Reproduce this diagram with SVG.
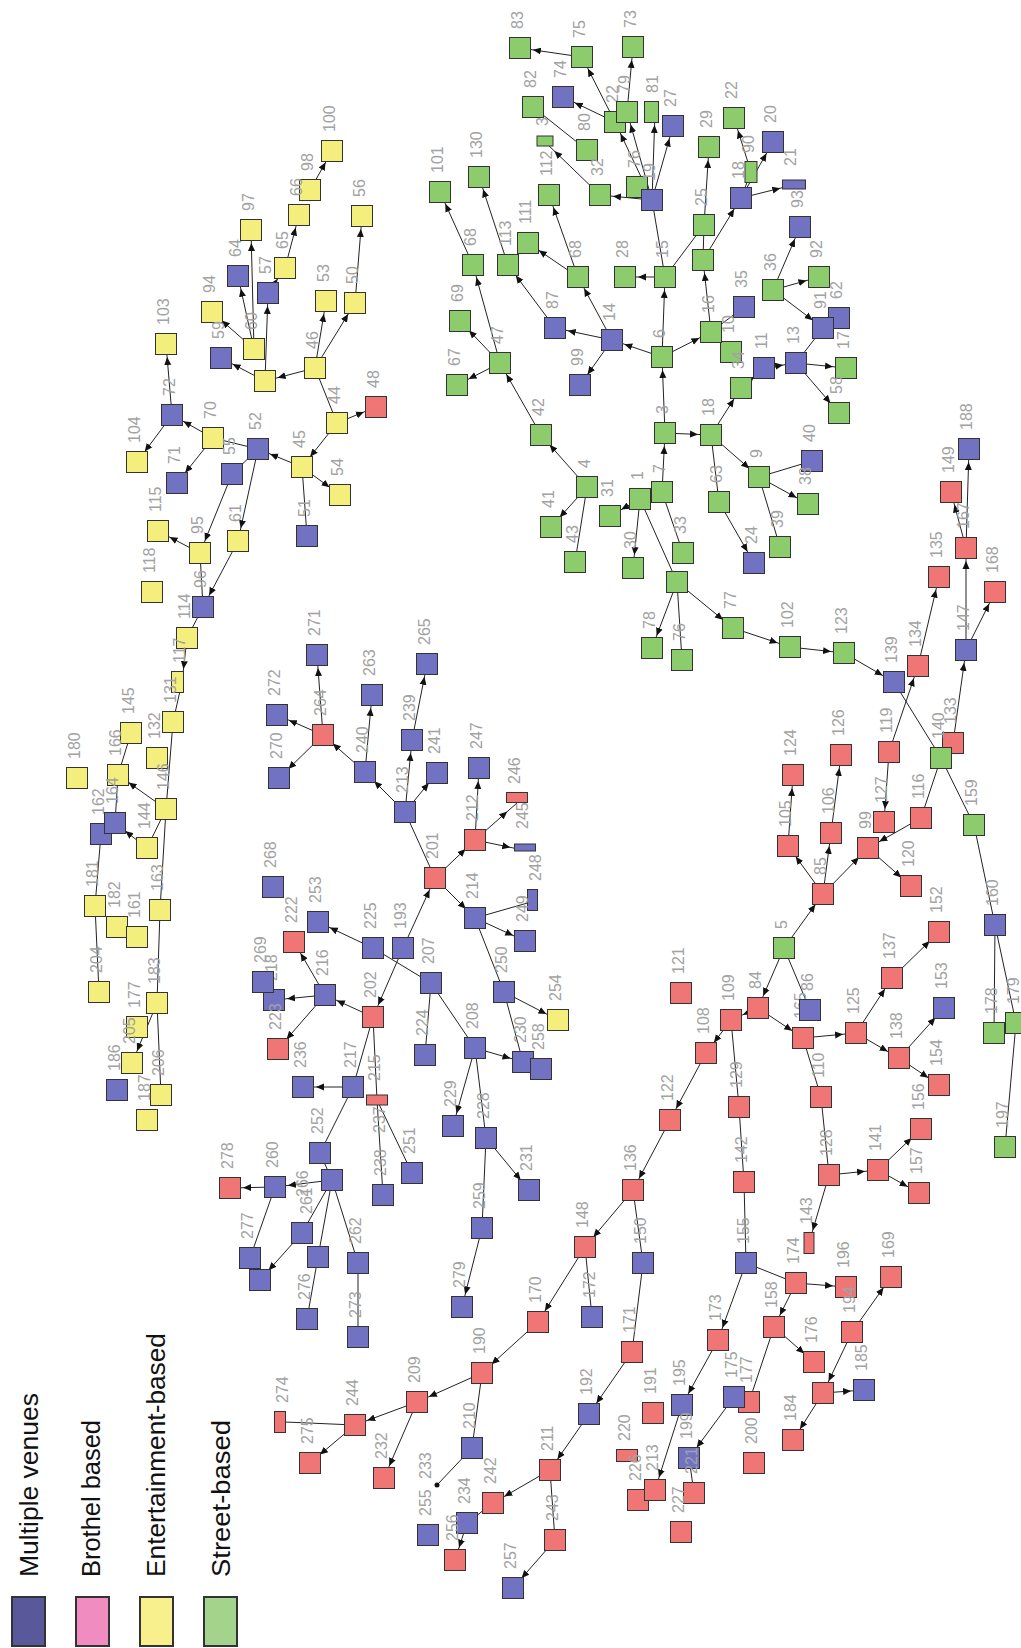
<svg xmlns="http://www.w3.org/2000/svg" width="1021" height="1648" viewBox="0 0 1021 1648">
<style>
.Y rect{fill:#f4ee7c;stroke:#333;stroke-width:1}
.B rect{fill:#7272c2;stroke:#333;stroke-width:1}
.R rect{fill:#f07676;stroke:#333;stroke-width:1}
.G rect{fill:#8ccc6c;stroke:#333;stroke-width:1}
.nodes text{font-family:"Liberation Sans",Arial,sans-serif;font-size:16px;fill:#a2a2a2}
.leg text{font-family:"Liberation Sans",Arial,sans-serif;font-size:26px;fill:#111}
.leg rect{stroke:#333;stroke-width:2}
#edges line{stroke:#222;stroke-width:1}
</style>
<defs>
<marker id="ah" markerUnits="userSpaceOnUse" markerWidth="24" markerHeight="10" refX="21" refY="5" orient="auto"><path d="M0,1.5 L8,5 L0,8.5 z" fill="#111"/></marker>
</defs>
<rect width="1021" height="1648" fill="#fff"/>
<g id="edges">
<g marker-end="url(#ah)">
<line x1="310" y1="190" x2="332" y2="151"/><line x1="285" y1="268" x2="299" y2="215"/><line x1="268" y1="293" x2="285" y2="268"/>
<line x1="265" y1="381" x2="268" y2="293"/><line x1="265" y1="381" x2="221" y2="358"/><line x1="254" y1="349" x2="238" y2="276"/>
<line x1="254" y1="349" x2="251" y2="230"/><line x1="254" y1="349" x2="212" y2="312"/><line x1="315" y1="368" x2="265" y2="381"/>
<line x1="315" y1="368" x2="355" y2="303"/><line x1="355" y1="303" x2="362" y2="216"/><line x1="315" y1="368" x2="326" y2="301"/>
<line x1="337" y1="423" x2="376" y2="407"/><line x1="337" y1="423" x2="302" y2="467"/><line x1="302" y1="467" x2="258" y2="449"/>
<line x1="302" y1="467" x2="340" y2="495"/><line x1="232" y1="474" x2="200" y2="553"/><line x1="258" y1="449" x2="238" y2="541"/>
<line x1="213" y1="438" x2="172" y2="415"/><line x1="172" y1="415" x2="166" y2="344"/><line x1="172" y1="415" x2="137" y2="462"/>
<line x1="213" y1="438" x2="177" y2="483"/><line x1="238" y1="541" x2="203" y2="607"/><line x1="200" y1="553" x2="158" y2="531"/>
<line x1="187" y1="638" x2="182" y2="682"/><line x1="166" y1="809" x2="118" y2="775"/><line x1="147" y1="848" x2="115" y2="823"/>
<line x1="157" y1="1003" x2="132" y2="1063"/>
<line x1="323" y1="735" x2="317" y2="655"/><line x1="323" y1="735" x2="277" y2="715"/><line x1="323" y1="735" x2="279" y2="778"/>
<line x1="365" y1="772" x2="323" y2="735"/><line x1="365" y1="772" x2="372" y2="695"/><line x1="405" y1="812" x2="365" y2="772"/>
<line x1="405" y1="812" x2="412" y2="740"/><line x1="412" y1="740" x2="427" y2="664"/><line x1="405" y1="812" x2="437" y2="773"/>
<line x1="435" y1="878" x2="475" y2="840"/><line x1="475" y1="840" x2="479" y2="768"/><line x1="475" y1="840" x2="517" y2="803"/>
<line x1="475" y1="840" x2="523" y2="850"/><line x1="435" y1="878" x2="475" y2="918"/><line x1="475" y1="918" x2="525" y2="941"/>
<line x1="504" y1="992" x2="558" y2="1020"/><line x1="403" y1="948" x2="435" y2="878"/><line x1="403" y1="948" x2="373" y2="1017"/>
<line x1="475" y1="1048" x2="523" y2="1062"/><line x1="475" y1="1048" x2="453" y2="1126"/><line x1="486" y1="1138" x2="529" y2="1190"/>
<line x1="482" y1="1228" x2="462" y2="1307"/><line x1="373" y1="1017" x2="325" y2="995"/><line x1="353" y1="1087" x2="303" y2="1087"/>
<line x1="373" y1="948" x2="318" y2="922"/><line x1="325" y1="995" x2="294" y2="942"/><line x1="325" y1="995" x2="274" y2="1000"/>
<line x1="325" y1="995" x2="278" y2="1049"/><line x1="275" y1="1187" x2="230" y2="1188"/><line x1="332" y1="1180" x2="275" y2="1187"/>
<line x1="302" y1="1233" x2="260" y2="1280"/>
<line x1="670" y1="1120" x2="633" y2="1190"/><line x1="633" y1="1190" x2="585" y2="1247"/><line x1="585" y1="1247" x2="538" y2="1322"/>
<line x1="632" y1="1352" x2="589" y2="1414"/><line x1="589" y1="1414" x2="550" y2="1470"/><line x1="550" y1="1470" x2="493" y2="1503"/>
<line x1="555" y1="1540" x2="513" y2="1588"/><line x1="467" y1="1523" x2="455" y2="1560"/><line x1="538" y1="1322" x2="482" y2="1373"/>
<line x1="482" y1="1373" x2="417" y2="1402"/><line x1="417" y1="1402" x2="355" y2="1425"/><line x1="417" y1="1402" x2="384" y2="1478"/>
<line x1="355" y1="1425" x2="310" y2="1463"/>
<line x1="784" y1="948" x2="823" y2="894"/><line x1="823" y1="894" x2="868" y2="848"/><line x1="868" y1="848" x2="911" y2="886"/>
<line x1="921" y1="818" x2="868" y2="848"/><line x1="823" y1="894" x2="831" y2="833"/><line x1="823" y1="894" x2="788" y2="846"/>
<line x1="788" y1="846" x2="793" y2="775"/><line x1="831" y1="833" x2="841" y2="755"/><line x1="889" y1="752" x2="884" y2="822"/>
<line x1="784" y1="948" x2="758" y2="1008"/><line x1="758" y1="1008" x2="731" y2="1020"/><line x1="758" y1="1008" x2="803" y2="1038"/>
<line x1="803" y1="1038" x2="856" y2="1033"/><line x1="856" y1="1033" x2="892" y2="978"/><line x1="892" y1="978" x2="939" y2="932"/>
<line x1="856" y1="1033" x2="899" y2="1058"/><line x1="899" y1="1058" x2="944" y2="1008"/><line x1="899" y1="1058" x2="939" y2="1085"/>
<line x1="731" y1="1020" x2="706" y2="1053"/><line x1="706" y1="1053" x2="670" y2="1120"/><line x1="829" y1="1175" x2="878" y2="1170"/>
<line x1="878" y1="1170" x2="921" y2="1129"/><line x1="878" y1="1170" x2="919" y2="1193"/><line x1="829" y1="1175" x2="809" y2="1243"/>
<line x1="746" y1="1263" x2="718" y2="1340"/><line x1="718" y1="1340" x2="682" y2="1405"/><line x1="796" y1="1283" x2="846" y2="1287"/>
<line x1="796" y1="1283" x2="774" y2="1327"/><line x1="774" y1="1327" x2="814" y2="1362"/><line x1="852" y1="1332" x2="891" y2="1277"/>
<line x1="852" y1="1332" x2="823" y2="1393"/><line x1="823" y1="1393" x2="864" y2="1390"/><line x1="823" y1="1393" x2="793" y2="1440"/>
<line x1="734" y1="1397" x2="689" y2="1458"/><line x1="682" y1="1405" x2="655" y2="1490"/>
<line x1="844" y1="653" x2="894" y2="682"/><line x1="889" y1="752" x2="918" y2="666"/><line x1="918" y1="666" x2="939" y2="577"/>
<line x1="966" y1="548" x2="951" y2="492"/><line x1="966" y1="548" x2="969" y2="449"/><line x1="966" y1="650" x2="966" y2="548"/>
<line x1="966" y1="650" x2="995" y2="592"/><line x1="953" y1="743" x2="966" y2="650"/>
<line x1="665" y1="433" x2="662" y2="357"/><line x1="662" y1="357" x2="612" y2="340"/><line x1="612" y1="340" x2="555" y2="328"/>
<line x1="612" y1="340" x2="580" y2="385"/><line x1="612" y1="340" x2="578" y2="277"/><line x1="578" y1="277" x2="528" y2="243"/>
<line x1="578" y1="277" x2="549" y2="195"/><line x1="662" y1="357" x2="665" y2="277"/><line x1="665" y1="277" x2="625" y2="277"/>
<line x1="652" y1="200" x2="600" y2="195"/><line x1="600" y1="195" x2="545" y2="142"/><line x1="652" y1="200" x2="655" y2="112"/>
<line x1="652" y1="200" x2="673" y2="126"/><line x1="652" y1="200" x2="627" y2="112"/><line x1="652" y1="200" x2="615" y2="122"/>
<line x1="615" y1="122" x2="563" y2="97"/><line x1="615" y1="122" x2="582" y2="57"/><line x1="582" y1="57" x2="520" y2="48"/>
<line x1="627" y1="112" x2="633" y2="47"/><line x1="662" y1="357" x2="711" y2="332"/><line x1="711" y1="332" x2="703" y2="260"/>
<line x1="703" y1="260" x2="741" y2="198"/><line x1="704" y1="225" x2="709" y2="147"/><line x1="741" y1="198" x2="793" y2="185"/>
<line x1="741" y1="198" x2="773" y2="142"/><line x1="751" y1="172" x2="734" y2="118"/><line x1="773" y1="290" x2="800" y2="227"/>
<line x1="773" y1="290" x2="819" y2="277"/><line x1="773" y1="290" x2="823" y2="328"/><line x1="796" y1="363" x2="846" y2="368"/>
<line x1="764" y1="368" x2="796" y2="363"/><line x1="741" y1="388" x2="764" y2="368"/><line x1="796" y1="363" x2="839" y2="413"/>
<line x1="711" y1="435" x2="741" y2="388"/><line x1="665" y1="433" x2="711" y2="435"/><line x1="711" y1="435" x2="759" y2="477"/>
<line x1="719" y1="502" x2="754" y2="563"/><line x1="759" y1="477" x2="808" y2="504"/><line x1="541" y1="435" x2="500" y2="363"/>
<line x1="500" y1="363" x2="473" y2="265"/><line x1="500" y1="363" x2="460" y2="321"/><line x1="500" y1="363" x2="457" y2="385"/>
<line x1="473" y1="265" x2="440" y2="192"/><line x1="508" y1="265" x2="479" y2="177"/><line x1="555" y1="328" x2="508" y2="265"/>
<line x1="587" y1="487" x2="541" y2="435"/><line x1="587" y1="487" x2="551" y2="527"/><line x1="640" y1="499" x2="610" y2="516"/>
<line x1="640" y1="499" x2="633" y2="568"/><line x1="662" y1="492" x2="665" y2="433"/><line x1="677" y1="582" x2="652" y2="648"/>
<line x1="677" y1="582" x2="733" y2="628"/><line x1="733" y1="628" x2="790" y2="647"/><line x1="790" y1="647" x2="844" y2="653"/>
</g>
<line x1="337" y1="423" x2="315" y2="368"/><line x1="302" y1="467" x2="307" y2="536"/><line x1="258" y1="449" x2="232" y2="474"/>
<line x1="258" y1="449" x2="213" y2="438"/><line x1="200" y1="553" x2="203" y2="607"/><line x1="203" y1="607" x2="187" y2="638"/>
<line x1="182" y1="682" x2="173" y2="722"/><line x1="173" y1="722" x2="166" y2="809"/><line x1="131" y1="733" x2="118" y2="775"/>
<line x1="118" y1="775" x2="115" y2="823"/><line x1="166" y1="809" x2="147" y2="848"/><line x1="166" y1="809" x2="160" y2="910"/>
<line x1="101" y1="834" x2="95" y2="906"/><line x1="95" y1="906" x2="99" y2="992"/><line x1="160" y1="910" x2="157" y2="1003"/>
<line x1="157" y1="1003" x2="161" y2="1095"/>
<line x1="435" y1="878" x2="405" y2="812"/><line x1="475" y1="918" x2="538" y2="900"/><line x1="475" y1="918" x2="504" y2="992"/>
<line x1="504" y1="992" x2="523" y2="1062"/><line x1="373" y1="948" x2="431" y2="983"/><line x1="431" y1="983" x2="425" y2="1055"/>
<line x1="431" y1="983" x2="475" y2="1048"/><line x1="475" y1="1048" x2="486" y2="1138"/><line x1="486" y1="1138" x2="482" y2="1228"/>
<line x1="373" y1="1017" x2="377" y2="1100"/><line x1="373" y1="1017" x2="353" y2="1087"/><line x1="353" y1="1087" x2="320" y2="1153"/>
<line x1="320" y1="1153" x2="332" y2="1180"/><line x1="377" y1="1100" x2="383" y2="1195"/><line x1="377" y1="1100" x2="412" y2="1173"/>
<line x1="332" y1="1180" x2="302" y2="1233"/><line x1="332" y1="1180" x2="318" y2="1257"/><line x1="332" y1="1180" x2="358" y2="1263"/>
<line x1="275" y1="1187" x2="250" y2="1258"/><line x1="318" y1="1257" x2="307" y2="1319"/><line x1="358" y1="1263" x2="358" y2="1337"/>
<line x1="633" y1="1190" x2="643" y2="1263"/><line x1="585" y1="1247" x2="592" y2="1317"/><line x1="643" y1="1263" x2="632" y2="1352"/>
<line x1="550" y1="1470" x2="555" y2="1540"/><line x1="493" y1="1503" x2="467" y2="1523"/><line x1="482" y1="1373" x2="472" y2="1448"/>
<line x1="472" y1="1448" x2="437" y2="1485"/><line x1="355" y1="1425" x2="285" y2="1422"/>
<line x1="784" y1="948" x2="810" y2="1010"/><line x1="731" y1="1020" x2="739" y2="1107"/><line x1="739" y1="1107" x2="744" y2="1182"/>
<line x1="744" y1="1182" x2="746" y2="1263"/><line x1="803" y1="1038" x2="821" y2="1097"/><line x1="821" y1="1097" x2="829" y2="1175"/>
<line x1="746" y1="1263" x2="796" y2="1283"/><line x1="774" y1="1327" x2="749" y2="1402"/><line x1="689" y1="1458" x2="694" y2="1493"/>
<line x1="894" y1="682" x2="941" y2="758"/><line x1="941" y1="758" x2="921" y2="818"/><line x1="941" y1="758" x2="974" y2="825"/>
<line x1="974" y1="825" x2="995" y2="925"/><line x1="995" y1="925" x2="994" y2="1033"/><line x1="995" y1="925" x2="1016" y2="1023"/>
<line x1="1016" y1="1023" x2="1005" y2="1147"/>
<line x1="665" y1="277" x2="652" y2="200"/><line x1="587" y1="150" x2="533" y2="107"/><line x1="703" y1="260" x2="704" y2="225"/>
<line x1="665" y1="277" x2="704" y2="225"/><line x1="741" y1="198" x2="751" y2="172"/><line x1="711" y1="332" x2="744" y2="307"/>
<line x1="796" y1="363" x2="823" y2="328"/><line x1="711" y1="435" x2="719" y2="502"/><line x1="759" y1="477" x2="812" y2="461"/>
<line x1="759" y1="477" x2="780" y2="547"/><line x1="587" y1="487" x2="575" y2="562"/><line x1="640" y1="499" x2="677" y2="582"/>
<line x1="662" y1="492" x2="683" y2="553"/><line x1="677" y1="582" x2="682" y2="660"/>
<circle cx="437" cy="1485" r="2.5" fill="#111"/>
</g>
<g class="nodes">
<g id="n100" class="Y" transform="translate(332,151)"><rect x="-10.5" y="-10.5" width="21" height="21"/><text x="19" y="3" transform="rotate(-90)">100</text></g>
<g id="n98" class="Y" transform="translate(310,190)"><rect x="-10.5" y="-10.5" width="21" height="21"/><text x="19" y="3" transform="rotate(-90)">98</text></g>
<g id="n66" class="Y" transform="translate(299,215)"><rect x="-10.5" y="-10.5" width="21" height="21"/><text x="19" y="3" transform="rotate(-90)">66</text></g>
<g id="n97" class="Y" transform="translate(251,230)"><rect x="-10.5" y="-10.5" width="21" height="21"/><text x="19" y="3" transform="rotate(-90)">97</text></g>
<g id="n65" class="Y" transform="translate(285,268)"><rect x="-10.5" y="-10.5" width="21" height="21"/><text x="19" y="3" transform="rotate(-90)">65</text></g>
<g id="n57" class="B" transform="translate(268,293)"><rect x="-10.5" y="-10.5" width="21" height="21"/><text x="19" y="3" transform="rotate(-90)">57</text></g>
<g id="n64" class="B" transform="translate(238,276)"><rect x="-10.5" y="-10.5" width="21" height="21"/><text x="19" y="3" transform="rotate(-90)">64</text></g>
<g id="n94" class="Y" transform="translate(212,312)"><rect x="-10.5" y="-10.5" width="21" height="21"/><text x="19" y="3" transform="rotate(-90)">94</text></g>
<g id="n62" class="Y" transform="translate(265,381)"><rect x="-10.5" y="-10.5" width="21" height="21"/></g>
<g id="n60" class="Y" transform="translate(254,349)"><rect x="-10.5" y="-10.5" width="21" height="21"/><text x="19" y="3" transform="rotate(-90)">60</text></g>
<g id="n59" class="B" transform="translate(221,358)"><rect x="-10.5" y="-10.5" width="21" height="21"/><text x="19" y="3" transform="rotate(-90)">59</text></g>
<g id="n53" class="Y" transform="translate(326,301)"><rect x="-10.5" y="-10.5" width="21" height="21"/><text x="19" y="3" transform="rotate(-90)">53</text></g>
<g id="n56" class="Y" transform="translate(362,216)"><rect x="-10.5" y="-10.5" width="21" height="21"/><text x="19" y="3" transform="rotate(-90)">56</text></g>
<g id="n50" class="Y" transform="translate(355,303)"><rect x="-10.5" y="-10.5" width="21" height="21"/><text x="19" y="3" transform="rotate(-90)">50</text></g>
<g id="n46" class="Y" transform="translate(315,368)"><rect x="-10.5" y="-10.5" width="21" height="21"/><text x="19" y="3" transform="rotate(-90)">46</text></g>
<g id="n48" class="R" transform="translate(376,407)"><rect x="-10.5" y="-10.5" width="21" height="21"/><text x="19" y="3" transform="rotate(-90)">48</text></g>
<g id="n44" class="Y" transform="translate(337,423)"><rect x="-10.5" y="-10.5" width="21" height="21"/><text x="19" y="3" transform="rotate(-90)">44</text></g>
<g id="n103" class="Y" transform="translate(166,344)"><rect x="-10.5" y="-10.5" width="21" height="21"/><text x="19" y="3" transform="rotate(-90)">103</text></g>
<g id="n72" class="B" transform="translate(172,415)"><rect x="-10.5" y="-10.5" width="21" height="21"/><text x="19" y="3" transform="rotate(-90)">72</text></g>
<g id="n70" class="Y" transform="translate(213,438)"><rect x="-10.5" y="-10.5" width="21" height="21"/><text x="19" y="3" transform="rotate(-90)">70</text></g>
<g id="n104" class="Y" transform="translate(137,462)"><rect x="-10.5" y="-10.5" width="21" height="21"/><text x="19" y="3" transform="rotate(-90)">104</text></g>
<g id="n71" class="B" transform="translate(177,483)"><rect x="-10.5" y="-10.5" width="21" height="21"/><text x="19" y="3" transform="rotate(-90)">71</text></g>
<g id="n55" class="B" transform="translate(232,474)"><rect x="-10.5" y="-10.5" width="21" height="21"/><text x="19" y="3" transform="rotate(-90)">55</text></g>
<g id="n52" class="B" transform="translate(258,449)"><rect x="-10.5" y="-10.5" width="21" height="21"/><text x="19" y="3" transform="rotate(-90)">52</text></g>
<g id="n45" class="Y" transform="translate(302,467)"><rect x="-10.5" y="-10.5" width="21" height="21"/><text x="19" y="3" transform="rotate(-90)">45</text></g>
<g id="n54" class="Y" transform="translate(340,495)"><rect x="-10.5" y="-10.5" width="21" height="21"/><text x="19" y="3" transform="rotate(-90)">54</text></g>
<g id="n51" class="B" transform="translate(307,536)"><rect x="-10.5" y="-10.5" width="21" height="21"/><text x="19" y="3" transform="rotate(-90)">51</text></g>
<g id="n115" class="Y" transform="translate(158,531)"><rect x="-10.5" y="-10.5" width="21" height="21"/><text x="19" y="3" transform="rotate(-90)">115</text></g>
<g id="n95" class="Y" transform="translate(200,553)"><rect x="-10.5" y="-10.5" width="21" height="21"/><text x="19" y="3" transform="rotate(-90)">95</text></g>
<g id="n61" class="Y" transform="translate(238,541)"><rect x="-10.5" y="-10.5" width="21" height="21"/><text x="19" y="3" transform="rotate(-90)">61</text></g>
<g id="n118" class="Y" transform="translate(152,592)"><rect x="-10.5" y="-10.5" width="21" height="21"/><text x="19" y="3" transform="rotate(-90)">118</text></g>
<g id="n96" class="B" transform="translate(203,607)"><rect x="-10.5" y="-10.5" width="21" height="21"/><text x="19" y="3" transform="rotate(-90)">96</text></g>
<g id="n114" class="Y" transform="translate(187,638)"><rect x="-10.5" y="-10.5" width="21" height="21"/><text x="19" y="3" transform="rotate(-90)">114</text></g>
<g id="n117" class="Y" transform="translate(182,682)"><rect x="-10.5" y="-10.5" width="12" height="21"/><text x="19" y="3" transform="rotate(-90)">117</text></g>
<g id="n131" class="Y" transform="translate(173,722)"><rect x="-10.5" y="-10.5" width="21" height="21"/><text x="19" y="3" transform="rotate(-90)">131</text></g>
<g id="n145" class="Y" transform="translate(131,733)"><rect x="-10.5" y="-10.5" width="21" height="21"/><text x="19" y="3" transform="rotate(-90)">145</text></g>
<g id="n132" class="Y" transform="translate(157,758)"><rect x="-10.5" y="-10.5" width="21" height="21"/><text x="19" y="3" transform="rotate(-90)">132</text></g>
<g id="n166" class="Y" transform="translate(118,775)"><rect x="-10.5" y="-10.5" width="21" height="21"/><text x="19" y="3" transform="rotate(-90)">166</text></g>
<g id="n180" class="Y" transform="translate(77,778)"><rect x="-10.5" y="-10.5" width="21" height="21"/><text x="19" y="3" transform="rotate(-90)">180</text></g>
<g id="n146" class="Y" transform="translate(166,809)"><rect x="-10.5" y="-10.5" width="21" height="21"/><text x="19" y="3" transform="rotate(-90)">146</text></g>
<g id="n162" class="B" transform="translate(101,834)"><rect x="-10.5" y="-10.5" width="21" height="21"/><text x="19" y="3" transform="rotate(-90)">162</text></g>
<g id="n164" class="B" transform="translate(115,823)"><rect x="-10.5" y="-10.5" width="21" height="21"/><text x="19" y="3" transform="rotate(-90)">164</text></g>
<g id="n144" class="Y" transform="translate(147,848)"><rect x="-10.5" y="-10.5" width="21" height="21"/><text x="19" y="3" transform="rotate(-90)">144</text></g>
<g id="n163" class="Y" transform="translate(160,910)"><rect x="-10.5" y="-10.5" width="21" height="21"/><text x="19" y="3" transform="rotate(-90)">163</text></g>
<g id="n181" class="Y" transform="translate(95,906)"><rect x="-10.5" y="-10.5" width="21" height="21"/><text x="19" y="3" transform="rotate(-90)">181</text></g>
<g id="n182" class="Y" transform="translate(117,927)"><rect x="-10.5" y="-10.5" width="21" height="21"/><text x="19" y="3" transform="rotate(-90)">182</text></g>
<g id="n161" class="Y" transform="translate(137,937)"><rect x="-10.5" y="-10.5" width="21" height="21"/><text x="19" y="3" transform="rotate(-90)">161</text></g>
<g id="n204" class="Y" transform="translate(99,992)"><rect x="-10.5" y="-10.5" width="21" height="21"/><text x="19" y="3" transform="rotate(-90)">204</text></g>
<g id="n183" class="Y" transform="translate(157,1003)"><rect x="-10.5" y="-10.5" width="21" height="21"/><text x="19" y="3" transform="rotate(-90)">183</text></g>
<g id="n177" class="Y" transform="translate(137,1027)"><rect x="-10.5" y="-10.5" width="21" height="21"/><text x="19" y="3" transform="rotate(-90)">177</text></g>
<g id="n205" class="Y" transform="translate(132,1063)"><rect x="-10.5" y="-10.5" width="21" height="21"/><text x="19" y="3" transform="rotate(-90)">205</text></g>
<g id="n186" class="B" transform="translate(117,1090)"><rect x="-10.5" y="-10.5" width="21" height="21"/><text x="19" y="3" transform="rotate(-90)">186</text></g>
<g id="n206" class="Y" transform="translate(161,1095)"><rect x="-10.5" y="-10.5" width="21" height="21"/><text x="19" y="3" transform="rotate(-90)">206</text></g>
<g id="n187" class="Y" transform="translate(147,1120)"><rect x="-10.5" y="-10.5" width="21" height="21"/><text x="19" y="3" transform="rotate(-90)">187</text></g>

<g id="n264" class="R" transform="translate(323,735)"><rect x="-10.5" y="-10.5" width="21" height="21"/><text x="19" y="3" transform="rotate(-90)">264</text></g>
<g id="n271" class="B" transform="translate(317,655)"><rect x="-10.5" y="-10.5" width="21" height="21"/><text x="19" y="3" transform="rotate(-90)">271</text></g>
<g id="n272" class="B" transform="translate(277,715)"><rect x="-10.5" y="-10.5" width="21" height="21"/><text x="19" y="3" transform="rotate(-90)">272</text></g>
<g id="n270" class="B" transform="translate(279,778)"><rect x="-10.5" y="-10.5" width="21" height="21"/><text x="19" y="3" transform="rotate(-90)">270</text></g>
<g id="n263" class="B" transform="translate(372,695)"><rect x="-10.5" y="-10.5" width="21" height="21"/><text x="19" y="3" transform="rotate(-90)">263</text></g>
<g id="n265" class="B" transform="translate(427,664)"><rect x="-10.5" y="-10.5" width="21" height="21"/><text x="19" y="3" transform="rotate(-90)">265</text></g>
<g id="n239" class="B" transform="translate(412,740)"><rect x="-10.5" y="-10.5" width="21" height="21"/><text x="19" y="3" transform="rotate(-90)">239</text></g>
<g id="n240" class="B" transform="translate(365,772)"><rect x="-10.5" y="-10.5" width="21" height="21"/><text x="19" y="3" transform="rotate(-90)">240</text></g>
<g id="n241" class="B" transform="translate(437,773)"><rect x="-10.5" y="-10.5" width="21" height="21"/><text x="19" y="3" transform="rotate(-90)">241</text></g>
<g id="n213" class="B" transform="translate(405,812)"><rect x="-10.5" y="-10.5" width="21" height="21"/><text x="19" y="3" transform="rotate(-90)">213</text></g>
<g id="n247" class="B" transform="translate(479,768)"><rect x="-10.5" y="-10.5" width="21" height="21"/><text x="19" y="3" transform="rotate(-90)">247</text></g>
<g id="n246" class="R" transform="translate(517,803)"><rect x="-10.5" y="-10.5" width="21" height="10"/><text x="19" y="3" transform="rotate(-90)">246</text></g>
<g id="n212" class="R" transform="translate(475,840)"><rect x="-10.5" y="-10.5" width="21" height="21"/><text x="19" y="3" transform="rotate(-90)">212</text></g>
<g id="n245" class="B" transform="translate(525,848)"><rect x="-10.5" y="-4" width="21" height="7"/><text x="19" y="3" transform="rotate(-90)">245</text></g>
<g id="n248" class="B" transform="translate(538,900)"><rect x="-10.5" y="-10.5" width="10" height="21"/><text x="19" y="3" transform="rotate(-90)">248</text></g>
<g id="n201" class="R" transform="translate(435,878)"><rect x="-10.5" y="-10.5" width="21" height="21"/><text x="19" y="3" transform="rotate(-90)">201</text></g>
<g id="n214" class="B" transform="translate(475,918)"><rect x="-10.5" y="-10.5" width="21" height="21"/><text x="19" y="3" transform="rotate(-90)">214</text></g>
<g id="n249" class="B" transform="translate(525,941)"><rect x="-10.5" y="-10.5" width="21" height="21"/><text x="19" y="3" transform="rotate(-90)">249</text></g>
<g id="n225" class="B" transform="translate(373,948)"><rect x="-10.5" y="-10.5" width="21" height="21"/><text x="19" y="3" transform="rotate(-90)">225</text></g>
<g id="n193" class="B" transform="translate(403,948)"><rect x="-10.5" y="-10.5" width="21" height="21"/><text x="19" y="3" transform="rotate(-90)">193</text></g>
<g id="n207" class="B" transform="translate(431,983)"><rect x="-10.5" y="-10.5" width="21" height="21"/><text x="19" y="3" transform="rotate(-90)">207</text></g>
<g id="n250" class="B" transform="translate(504,992)"><rect x="-10.5" y="-10.5" width="21" height="21"/><text x="19" y="3" transform="rotate(-90)">250</text></g>
<g id="n254" class="Y" transform="translate(558,1020)"><rect x="-10.5" y="-10.5" width="21" height="21"/><text x="19" y="3" transform="rotate(-90)">254</text></g>
<g id="n202" class="R" transform="translate(373,1017)"><rect x="-10.5" y="-10.5" width="21" height="21"/><text x="19" y="3" transform="rotate(-90)">202</text></g>
<g id="n224" class="B" transform="translate(425,1055)"><rect x="-10.5" y="-10.5" width="21" height="21"/><text x="19" y="3" transform="rotate(-90)">224</text></g>
<g id="n208" class="B" transform="translate(475,1048)"><rect x="-10.5" y="-10.5" width="21" height="21"/><text x="19" y="3" transform="rotate(-90)">208</text></g>
<g id="n230" class="B" transform="translate(523,1062)"><rect x="-10.5" y="-10.5" width="21" height="21"/><text x="19" y="3" transform="rotate(-90)">230</text></g>
<g id="n258" class="B" transform="translate(541,1069)"><rect x="-10.5" y="-10.5" width="21" height="21"/><text x="19" y="3" transform="rotate(-90)">258</text></g>
<g id="n217" class="B" transform="translate(353,1087)"><rect x="-10.5" y="-10.5" width="21" height="21"/><text x="19" y="3" transform="rotate(-90)">217</text></g>
<g id="n215" class="R" transform="translate(377,1100)"><rect x="-10.5" y="-5" width="21" height="10"/><text x="19" y="3" transform="rotate(-90)">215</text></g>
<g id="n229" class="B" transform="translate(453,1126)"><rect x="-10.5" y="-10.5" width="21" height="21"/><text x="19" y="3" transform="rotate(-90)">229</text></g>
<g id="n228" class="B" transform="translate(486,1138)"><rect x="-10.5" y="-10.5" width="21" height="21"/><text x="19" y="3" transform="rotate(-90)">228</text></g>
<g id="n231" class="B" transform="translate(529,1190)"><rect x="-10.5" y="-10.5" width="21" height="21"/><text x="19" y="3" transform="rotate(-90)">231</text></g>
<g id="n251" class="B" transform="translate(412,1173)"><rect x="-10.5" y="-10.5" width="21" height="21"/><text x="19" y="3" transform="rotate(-90)">251</text></g>
<g id="n238" class="B" transform="translate(383,1195)"><rect x="-10.5" y="-10.5" width="21" height="21"/><text x="19" y="3" transform="rotate(-90)">238</text><text x="62" y="2" transform="rotate(-90)">237</text></g>
<g id="n259" class="B" transform="translate(482,1228)"><rect x="-10.5" y="-10.5" width="21" height="21"/><text x="19" y="3" transform="rotate(-90)">259</text></g>
<g id="n279" class="B" transform="translate(462,1307)"><rect x="-10.5" y="-10.5" width="21" height="21"/><text x="19" y="3" transform="rotate(-90)">279</text></g>
<g id="n268" class="B" transform="translate(273,887)"><rect x="-10.5" y="-10.5" width="21" height="21"/><text x="19" y="3" transform="rotate(-90)">268</text></g>
<g id="n253" class="B" transform="translate(318,922)"><rect x="-10.5" y="-10.5" width="21" height="21"/><text x="19" y="3" transform="rotate(-90)">253</text></g>
<g id="n222" class="R" transform="translate(294,942)"><rect x="-10.5" y="-10.5" width="21" height="21"/><text x="19" y="3" transform="rotate(-90)">222</text></g>
<g id="n218" class="B" transform="translate(274,1000)"><rect x="-10.5" y="-10.5" width="21" height="21"/><text x="19" y="3" transform="rotate(-90)">218</text></g>
<g id="n269" class="B" transform="translate(263,982)"><rect x="-10.5" y="-10.5" width="21" height="21"/><text x="19" y="3" transform="rotate(-90)">269</text></g>
<g id="n216" class="B" transform="translate(325,995)"><rect x="-10.5" y="-10.5" width="21" height="21"/><text x="19" y="3" transform="rotate(-90)">216</text></g>
<g id="n223" class="R" transform="translate(278,1049)"><rect x="-10.5" y="-10.5" width="21" height="21"/><text x="19" y="3" transform="rotate(-90)">223</text></g>
<g id="n236" class="B" transform="translate(303,1087)"><rect x="-10.5" y="-10.5" width="21" height="21"/><text x="19" y="3" transform="rotate(-90)">236</text></g>
<g id="n252" class="B" transform="translate(320,1153)"><rect x="-10.5" y="-10.5" width="21" height="21"/><text x="19" y="3" transform="rotate(-90)">252</text></g>
<g id="n267" class="B" transform="translate(332,1180)"><rect x="-10.5" y="-10.5" width="21" height="21"/></g>
<g id="n260" class="B" transform="translate(275,1187)"><rect x="-10.5" y="-10.5" width="21" height="21"/><text x="19" y="3" transform="rotate(-90)">260</text></g>
<g id="n278" class="R" transform="translate(230,1188)"><rect x="-10.5" y="-10.5" width="21" height="21"/><text x="19" y="3" transform="rotate(-90)">278</text></g>
<g id="n266" class="B" transform="translate(318,1257)"><rect x="-10.5" y="-10.5" width="21" height="21"/><text x="60" y="-10" transform="rotate(-90)">266</text></g>
<g id="n261" class="B" transform="translate(302,1233)"><rect x="-10.5" y="-10.5" width="21" height="21"/><text x="19" y="10" transform="rotate(-90)">261</text></g>
<g id="n277" class="B" transform="translate(250,1258)"><rect x="-10.5" y="-10.5" width="21" height="21"/><text x="19" y="3" transform="rotate(-90)">277</text></g>
<g id="n280" class="B" transform="translate(260,1280)"><rect x="-10.5" y="-10.5" width="21" height="21"/></g>
<g id="n276" class="B" transform="translate(307,1319)"><rect x="-10.5" y="-10.5" width="21" height="21"/><text x="19" y="3" transform="rotate(-90)">276</text></g>
<g id="n262" class="B" transform="translate(358,1263)"><rect x="-10.5" y="-10.5" width="21" height="21"/><text x="19" y="3" transform="rotate(-90)">262</text></g>
<g id="n273" class="B" transform="translate(358,1337)"><rect x="-10.5" y="-10.5" width="21" height="21"/><text x="19" y="3" transform="rotate(-90)">273</text></g>
<g id="n274" class="R" transform="translate(285,1422)"><rect x="-10.5" y="-10.5" width="11" height="21"/><text x="19" y="3" transform="rotate(-90)">274</text></g>
<g id="n275" class="R" transform="translate(310,1463)"><rect x="-10.5" y="-10.5" width="21" height="21"/><text x="19" y="3" transform="rotate(-90)">275</text></g>
<g id="n244" class="R" transform="translate(355,1425)"><rect x="-10.5" y="-10.5" width="21" height="21"/><text x="19" y="3" transform="rotate(-90)">244</text></g>
<g id="n232" class="R" transform="translate(384,1478)"><rect x="-10.5" y="-10.5" width="21" height="21"/><text x="19" y="3" transform="rotate(-90)">232</text></g>
<g id="n209" class="R" transform="translate(417,1402)"><rect x="-10.5" y="-10.5" width="21" height="21"/><text x="19" y="3" transform="rotate(-90)">209</text></g>
<g id="n190" class="R" transform="translate(482,1373)"><rect x="-10.5" y="-10.5" width="21" height="21"/><text x="19" y="3" transform="rotate(-90)">190</text></g>
<g id="n210" class="B" transform="translate(472,1448)"><rect x="-10.5" y="-10.5" width="21" height="21"/><text x="19" y="3" transform="rotate(-90)">210</text></g>
<g id="n255" class="B" transform="translate(428,1535)"><rect x="-10.5" y="-10.5" width="21" height="21"/><text x="19" y="3" transform="rotate(-90)">255</text><text x="56" y="3" transform="rotate(-90)">233</text></g>
<g id="n234" class="B" transform="translate(467,1523)"><rect x="-10.5" y="-10.5" width="21" height="21"/><text x="19" y="3" transform="rotate(-90)">234</text></g>
<g id="n242" class="R" transform="translate(493,1503)"><rect x="-10.5" y="-10.5" width="21" height="21"/><text x="19" y="3" transform="rotate(-90)">242</text></g>
<g id="n256" class="R" transform="translate(455,1560)"><rect x="-10.5" y="-10.5" width="21" height="21"/><text x="19" y="3" transform="rotate(-90)">256</text></g>
<g id="n170" class="R" transform="translate(538,1322)"><rect x="-10.5" y="-10.5" width="21" height="21"/><text x="19" y="3" transform="rotate(-90)">170</text></g>
<g id="n148" class="R" transform="translate(585,1247)"><rect x="-10.5" y="-10.5" width="21" height="21"/><text x="19" y="3" transform="rotate(-90)">148</text></g>
<g id="n172" class="B" transform="translate(592,1317)"><rect x="-10.5" y="-10.5" width="21" height="21"/><text x="19" y="3" transform="rotate(-90)">172</text></g>
<g id="n150" class="B" transform="translate(643,1263)"><rect x="-10.5" y="-10.5" width="21" height="21"/><text x="19" y="3" transform="rotate(-90)">150</text></g>
<g id="n171" class="R" transform="translate(632,1352)"><rect x="-10.5" y="-10.5" width="21" height="21"/><text x="19" y="3" transform="rotate(-90)">171</text></g>
<g id="n192" class="B" transform="translate(589,1414)"><rect x="-10.5" y="-10.5" width="21" height="21"/><text x="19" y="3" transform="rotate(-90)">192</text></g>
<g id="n211" class="R" transform="translate(550,1470)"><rect x="-10.5" y="-10.5" width="21" height="21"/><text x="19" y="3" transform="rotate(-90)">211</text></g>
<g id="n243" class="R" transform="translate(555,1540)"><rect x="-10.5" y="-10.5" width="21" height="21"/><text x="19" y="3" transform="rotate(-90)">243</text></g>
<g id="n257" class="B" transform="translate(513,1588)"><rect x="-10.5" y="-10.5" width="21" height="21"/><text x="19" y="3" transform="rotate(-90)">257</text></g>
<g id="n191" class="R" transform="translate(653,1413)"><rect x="-10.5" y="-10.5" width="21" height="21"/><text x="19" y="3" transform="rotate(-90)">191</text></g>
<g id="n220" class="R" transform="translate(627,1460)"><rect x="-10.5" y="-10.5" width="21" height="12"/><text x="19" y="3" transform="rotate(-90)">220</text></g>
<g id="n195" class="B" transform="translate(682,1405)"><rect x="-10.5" y="-10.5" width="21" height="21"/><text x="19" y="3" transform="rotate(-90)">195</text></g>
<g id="n226" class="R" transform="translate(638,1500)"><rect x="-10.5" y="-10.5" width="21" height="21"/><text x="19" y="3" transform="rotate(-90)">226</text></g>
<g id="n213b" class="R" transform="translate(655,1490)"><rect x="-10.5" y="-10.5" width="21" height="21"/><text x="19" y="3" transform="rotate(-90)">213</text></g>
<g id="n199" class="B" transform="translate(689,1458)"><rect x="-10.5" y="-10.5" width="21" height="21"/><text x="19" y="3" transform="rotate(-90)">199</text></g>
<g id="n221" class="R" transform="translate(694,1493)"><rect x="-10.5" y="-10.5" width="21" height="21"/><text x="19" y="3" transform="rotate(-90)">221</text></g>
<g id="n227" class="R" transform="translate(681,1532)"><rect x="-10.5" y="-10.5" width="21" height="21"/><text x="19" y="3" transform="rotate(-90)">227</text></g>
<g id="n155" class="B" transform="translate(746,1263)"><rect x="-10.5" y="-10.5" width="21" height="21"/><text x="19" y="3" transform="rotate(-90)">155</text></g>
<g id="n143" class="R" transform="translate(809,1243)"><rect x="-5" y="-10.5" width="10" height="21"/><text x="19" y="3" transform="rotate(-90)">143</text></g>
<g id="n174" class="R" transform="translate(796,1283)"><rect x="-10.5" y="-10.5" width="21" height="21"/><text x="19" y="3" transform="rotate(-90)">174</text></g>
<g id="n196" class="R" transform="translate(846,1287)"><rect x="-10.5" y="-10.5" width="21" height="21"/><text x="19" y="3" transform="rotate(-90)">196</text></g>
<g id="n169" class="R" transform="translate(891,1277)"><rect x="-10.5" y="-10.5" width="21" height="21"/><text x="19" y="3" transform="rotate(-90)">169</text></g>
<g id="n173" class="R" transform="translate(718,1340)"><rect x="-10.5" y="-10.5" width="21" height="21"/><text x="19" y="3" transform="rotate(-90)">173</text></g>
<g id="n158" class="R" transform="translate(774,1327)"><rect x="-10.5" y="-10.5" width="21" height="21"/><text x="19" y="3" transform="rotate(-90)">158</text></g>
<g id="n176" class="R" transform="translate(814,1362)"><rect x="-10.5" y="-10.5" width="21" height="21"/><text x="19" y="3" transform="rotate(-90)">176</text></g>
<g id="n194" class="R" transform="translate(852,1332)"><rect x="-10.5" y="-10.5" width="21" height="21"/><text x="19" y="3" transform="rotate(-90)">194</text></g>
<g id="n189" class="R" transform="translate(823,1393)"><rect x="-10.5" y="-10.5" width="21" height="21"/></g>
<g id="n185" class="B" transform="translate(864,1390)"><rect x="-10.5" y="-10.5" width="21" height="21"/><text x="19" y="3" transform="rotate(-90)">185</text></g>
<g id="n184" class="R" transform="translate(793,1440)"><rect x="-10.5" y="-10.5" width="21" height="21"/><text x="19" y="3" transform="rotate(-90)">184</text></g>
<g id="n177b" class="R" transform="translate(749,1402)"><rect x="-10.5" y="-10.5" width="21" height="21"/><text x="19" y="3" transform="rotate(-90)">177</text></g>
<g id="n175" class="B" transform="translate(734,1397)"><rect x="-10.5" y="-10.5" width="21" height="21"/><text x="19" y="3" transform="rotate(-90)">175</text></g>
<g id="n200" class="R" transform="translate(754,1463)"><rect x="-10.5" y="-10.5" width="21" height="21"/><text x="19" y="3" transform="rotate(-90)">200</text></g>

<g id="n121" class="R" transform="translate(681,993)"><rect x="-10.5" y="-10.5" width="21" height="21"/><text x="19" y="3" transform="rotate(-90)">121</text></g>
<g id="n108" class="R" transform="translate(706,1053)"><rect x="-10.5" y="-10.5" width="21" height="21"/><text x="19" y="3" transform="rotate(-90)">108</text></g>
<g id="n109" class="R" transform="translate(731,1020)"><rect x="-10.5" y="-10.5" width="21" height="21"/><text x="19" y="3" transform="rotate(-90)">109</text></g>
<g id="n84" class="R" transform="translate(758,1008)"><rect x="-10.5" y="-10.5" width="21" height="21"/><text x="19" y="3" transform="rotate(-90)">84</text></g>
<g id="n165" class="R" transform="translate(803,1038)"><rect x="-10.5" y="-10.5" width="21" height="21"/><text x="19" y="3" transform="rotate(-90)">165</text></g>
<g id="n86" class="B" transform="translate(810,1010)"><rect x="-10.5" y="-10.5" width="21" height="21"/><text x="19" y="3" transform="rotate(-90)">86</text></g>
<g id="n5" class="G" transform="translate(784,948)"><rect x="-10.5" y="-10.5" width="21" height="21"/><text x="19" y="3" transform="rotate(-90)">5</text></g>
<g id="n85" class="R" transform="translate(823,894)"><rect x="-10.5" y="-10.5" width="21" height="21"/><text x="19" y="3" transform="rotate(-90)">85</text></g>
<g id="n105" class="R" transform="translate(788,846)"><rect x="-10.5" y="-10.5" width="21" height="21"/><text x="19" y="3" transform="rotate(-90)">105</text></g>
<g id="n106" class="R" transform="translate(831,833)"><rect x="-10.5" y="-10.5" width="21" height="21"/><text x="19" y="3" transform="rotate(-90)">106</text></g>
<g id="n124" class="R" transform="translate(793,775)"><rect x="-10.5" y="-10.5" width="21" height="21"/><text x="19" y="3" transform="rotate(-90)">124</text></g>
<g id="n126" class="R" transform="translate(841,755)"><rect x="-10.5" y="-10.5" width="21" height="21"/><text x="19" y="3" transform="rotate(-90)">126</text></g>
<g id="n99r" class="R" transform="translate(868,848)"><rect x="-10.5" y="-10.5" width="21" height="21"/><text x="19" y="3" transform="rotate(-90)">99</text></g>
<g id="n127" class="R" transform="translate(884,822)"><rect x="-10.5" y="-10.5" width="21" height="21"/><text x="19" y="3" transform="rotate(-90)">127</text></g>
<g id="n120" class="R" transform="translate(911,886)"><rect x="-10.5" y="-10.5" width="21" height="21"/><text x="19" y="3" transform="rotate(-90)">120</text></g>
<g id="n116" class="R" transform="translate(921,818)"><rect x="-10.5" y="-10.5" width="21" height="21"/><text x="19" y="3" transform="rotate(-90)">116</text></g>
<g id="n119" class="R" transform="translate(889,752)"><rect x="-10.5" y="-10.5" width="21" height="21"/><text x="19" y="3" transform="rotate(-90)">119</text></g>
<g id="n152" class="R" transform="translate(939,932)"><rect x="-10.5" y="-10.5" width="21" height="21"/><text x="19" y="3" transform="rotate(-90)">152</text></g>
<g id="n125" class="R" transform="translate(856,1033)"><rect x="-10.5" y="-10.5" width="21" height="21"/><text x="19" y="3" transform="rotate(-90)">125</text></g>
<g id="n137" class="R" transform="translate(892,978)"><rect x="-10.5" y="-10.5" width="21" height="21"/><text x="19" y="3" transform="rotate(-90)">137</text></g>
<g id="n153" class="B" transform="translate(944,1008)"><rect x="-10.5" y="-10.5" width="21" height="21"/><text x="19" y="3" transform="rotate(-90)">153</text></g>
<g id="n138" class="R" transform="translate(899,1058)"><rect x="-10.5" y="-10.5" width="21" height="21"/><text x="19" y="3" transform="rotate(-90)">138</text></g>
<g id="n154" class="R" transform="translate(939,1085)"><rect x="-10.5" y="-10.5" width="21" height="21"/><text x="19" y="3" transform="rotate(-90)">154</text></g>
<g id="n129" class="R" transform="translate(739,1107)"><rect x="-10.5" y="-10.5" width="21" height="21"/><text x="19" y="3" transform="rotate(-90)">129</text></g>
<g id="n142" class="R" transform="translate(744,1182)"><rect x="-10.5" y="-10.5" width="21" height="21"/><text x="19" y="3" transform="rotate(-90)">142</text></g>
<g id="n110" class="R" transform="translate(821,1097)"><rect x="-10.5" y="-10.5" width="21" height="21"/><text x="19" y="3" transform="rotate(-90)">110</text></g>
<g id="n128" class="R" transform="translate(829,1175)"><rect x="-10.5" y="-10.5" width="21" height="21"/><text x="19" y="3" transform="rotate(-90)">128</text></g>
<g id="n141" class="R" transform="translate(878,1170)"><rect x="-10.5" y="-10.5" width="21" height="21"/><text x="19" y="3" transform="rotate(-90)">141</text></g>
<g id="n156" class="R" transform="translate(921,1129)"><rect x="-10.5" y="-10.5" width="21" height="21"/><text x="19" y="3" transform="rotate(-90)">156</text></g>
<g id="n157" class="R" transform="translate(919,1193)"><rect x="-10.5" y="-10.5" width="21" height="21"/><text x="19" y="3" transform="rotate(-90)">157</text></g>
<g id="n122" class="R" transform="translate(670,1120)"><rect x="-10.5" y="-10.5" width="21" height="21"/><text x="19" y="3" transform="rotate(-90)">122</text></g>
<g id="n136" class="R" transform="translate(633,1190)"><rect x="-10.5" y="-10.5" width="21" height="21"/><text x="19" y="3" transform="rotate(-90)">136</text></g>

<g id="n139" class="B" transform="translate(894,682)"><rect x="-10.5" y="-10.5" width="21" height="21"/><text x="19" y="3" transform="rotate(-90)">139</text></g>
<g id="n134" class="R" transform="translate(918,666)"><rect x="-10.5" y="-10.5" width="21" height="21"/><text x="19" y="3" transform="rotate(-90)">134</text></g>
<g id="n135" class="R" transform="translate(939,577)"><rect x="-10.5" y="-10.5" width="21" height="21"/><text x="19" y="3" transform="rotate(-90)">135</text></g>
<g id="n149" class="R" transform="translate(951,492)"><rect x="-10.5" y="-10.5" width="21" height="21"/><text x="19" y="3" transform="rotate(-90)">149</text></g>
<g id="n188" class="B" transform="translate(969,449)"><rect x="-10.5" y="-10.5" width="21" height="21"/><text x="19" y="3" transform="rotate(-90)">188</text></g>
<g id="n167" class="R" transform="translate(966,548)"><rect x="-10.5" y="-10.5" width="21" height="21"/><text x="19" y="3" transform="rotate(-90)">167</text></g>
<g id="n168" class="R" transform="translate(995,592)"><rect x="-10.5" y="-10.5" width="21" height="21"/><text x="19" y="3" transform="rotate(-90)">168</text></g>
<g id="n147" class="B" transform="translate(966,650)"><rect x="-10.5" y="-10.5" width="21" height="21"/><text x="19" y="3" transform="rotate(-90)">147</text></g>
<g id="n133" class="R" transform="translate(953,743)"><rect x="-10.5" y="-10.5" width="21" height="21"/><text x="19" y="3" transform="rotate(-90)">133</text></g>
<g id="n140" class="G" transform="translate(941,758)"><rect x="-10.5" y="-10.5" width="21" height="21"/><text x="19" y="3" transform="rotate(-90)">140</text></g>
<g id="n159" class="G" transform="translate(974,825)"><rect x="-10.5" y="-10.5" width="21" height="21"/><text x="19" y="3" transform="rotate(-90)">159</text></g>
<g id="n160" class="B" transform="translate(995,925)"><rect x="-10.5" y="-10.5" width="21" height="21"/><text x="19" y="3" transform="rotate(-90)">160</text></g>
<g id="n178" class="G" transform="translate(994,1033)"><rect x="-10.5" y="-10.5" width="21" height="21"/><text x="19" y="3" transform="rotate(-90)">178</text></g>
<g id="n179" class="G" transform="translate(1016,1023)"><rect x="-10.5" y="-10.5" width="21" height="21"/><text x="19" y="3" transform="rotate(-90)">179</text></g>
<g id="n197" class="G" transform="translate(1005,1147)"><rect x="-10.5" y="-10.5" width="21" height="21"/><text x="19" y="3" transform="rotate(-90)">197</text></g>

<g id="n83" class="G" transform="translate(520,48)"><rect x="-10.5" y="-10.5" width="21" height="21"/><text x="19" y="3" transform="rotate(-90)">83</text></g>
<g id="n75" class="G" transform="translate(582,57)"><rect x="-10.5" y="-10.5" width="21" height="21"/><text x="19" y="3" transform="rotate(-90)">75</text></g>
<g id="n73" class="G" transform="translate(633,47)"><rect x="-10.5" y="-10.5" width="21" height="21"/><text x="19" y="3" transform="rotate(-90)">73</text></g>
<g id="n74" class="B" transform="translate(563,97)"><rect x="-10.5" y="-10.5" width="21" height="21"/><text x="19" y="3" transform="rotate(-90)">74</text></g>
<g id="n82" class="G" transform="translate(533,107)"><rect x="-10.5" y="-10.5" width="21" height="21"/><text x="19" y="3" transform="rotate(-90)">82</text></g>
<g id="n22b" class="G" transform="translate(615,122)"><rect x="-10.5" y="-10.5" width="21" height="21"/><text x="19" y="3" transform="rotate(-90)">22</text></g>
<g id="n79" class="G" transform="translate(627,112)"><rect x="-10.5" y="-10.5" width="21" height="21"/><text x="19" y="3" transform="rotate(-90)">79</text></g>
<g id="n81" class="G" transform="translate(655,112)"><rect x="-10.5" y="-10.5" width="14" height="21"/><text x="19" y="3" transform="rotate(-90)">81</text></g>
<g id="n27" class="B" transform="translate(673,126)"><rect x="-10.5" y="-10.5" width="21" height="21"/><text x="19" y="3" transform="rotate(-90)">27</text></g>
<g id="n37" class="G" transform="translate(545,142)"><rect x="-8" y="-6" width="16" height="10"/><text x="16" y="3" transform="rotate(-90)">3</text></g>
<g id="n80" class="G" transform="translate(587,150)"><rect x="-10.5" y="-10.5" width="21" height="21"/><text x="19" y="3" transform="rotate(-90)">80</text></g>
<g id="n112" class="G" transform="translate(549,195)"><rect x="-10.5" y="-10.5" width="21" height="21"/><text x="19" y="3" transform="rotate(-90)">112</text></g>
<g id="n32" class="G" transform="translate(600,195)"><rect x="-10.5" y="-10.5" width="21" height="21"/><text x="19" y="3" transform="rotate(-90)">32</text></g>
<g id="n76" class="G" transform="translate(637,187)"><rect x="-10.5" y="-10.5" width="21" height="21"/><text x="19" y="3" transform="rotate(-90)">76</text></g>
<g id="n19" class="B" transform="translate(652,200)"><rect x="-10.5" y="-10.5" width="21" height="21"/><text x="19" y="3" transform="rotate(-90)">19</text></g>
<g id="n101" class="G" transform="translate(440,192)"><rect x="-10.5" y="-10.5" width="21" height="21"/><text x="19" y="3" transform="rotate(-90)">101</text></g>
<g id="n130" class="G" transform="translate(479,177)"><rect x="-10.5" y="-10.5" width="21" height="21"/><text x="19" y="3" transform="rotate(-90)">130</text></g>
<g id="n111" class="G" transform="translate(528,243)"><rect x="-10.5" y="-10.5" width="21" height="21"/><text x="19" y="3" transform="rotate(-90)">111</text></g>
<g id="n113" class="G" transform="translate(508,265)"><rect x="-10.5" y="-10.5" width="21" height="21"/><text x="19" y="3" transform="rotate(-90)">113</text></g>
<g id="n68a" class="G" transform="translate(473,265)"><rect x="-10.5" y="-10.5" width="21" height="21"/><text x="19" y="3" transform="rotate(-90)">68</text></g>
<g id="n68b" class="G" transform="translate(578,277)"><rect x="-10.5" y="-10.5" width="21" height="21"/><text x="19" y="3" transform="rotate(-90)">68</text></g>
<g id="n28" class="G" transform="translate(625,277)"><rect x="-10.5" y="-10.5" width="21" height="21"/><text x="19" y="3" transform="rotate(-90)">28</text></g>
<g id="n15" class="G" transform="translate(665,277)"><rect x="-10.5" y="-10.5" width="21" height="21"/><text x="19" y="3" transform="rotate(-90)">15</text></g>
<g id="n69" class="G" transform="translate(460,321)"><rect x="-10.5" y="-10.5" width="21" height="21"/><text x="19" y="3" transform="rotate(-90)">69</text></g>
<g id="n87" class="B" transform="translate(555,328)"><rect x="-10.5" y="-10.5" width="21" height="21"/><text x="19" y="3" transform="rotate(-90)">87</text></g>
<g id="n14" class="B" transform="translate(612,340)"><rect x="-10.5" y="-10.5" width="21" height="21"/><text x="19" y="3" transform="rotate(-90)">14</text></g>
<g id="n6" class="G" transform="translate(662,357)"><rect x="-10.5" y="-10.5" width="21" height="21"/><text x="19" y="3" transform="rotate(-90)">6</text></g>
<g id="n67" class="G" transform="translate(457,385)"><rect x="-10.5" y="-10.5" width="21" height="21"/><text x="19" y="3" transform="rotate(-90)">67</text></g>
<g id="n47" class="G" transform="translate(500,363)"><rect x="-10.5" y="-10.5" width="21" height="21"/><text x="19" y="3" transform="rotate(-90)">47</text></g>
<g id="n99" class="B" transform="translate(580,385)"><rect x="-10.5" y="-10.5" width="21" height="21"/><text x="19" y="3" transform="rotate(-90)">99</text></g>
<g id="n42" class="G" transform="translate(541,435)"><rect x="-10.5" y="-10.5" width="21" height="21"/><text x="19" y="3" transform="rotate(-90)">42</text></g>
<g id="n3" class="G" transform="translate(665,433)"><rect x="-10.5" y="-10.5" width="21" height="21"/><text x="19" y="3" transform="rotate(-90)">3</text></g>
<g id="n22" class="G" transform="translate(734,118)"><rect x="-10.5" y="-10.5" width="21" height="21"/><text x="19" y="3" transform="rotate(-90)">22</text></g>
<g id="n29" class="G" transform="translate(709,147)"><rect x="-10.5" y="-10.5" width="21" height="21"/><text x="19" y="3" transform="rotate(-90)">29</text></g>
<g id="n20" class="B" transform="translate(773,142)"><rect x="-10.5" y="-10.5" width="21" height="21"/><text x="19" y="3" transform="rotate(-90)">20</text></g>
<g id="n90" class="G" transform="translate(751,172)"><rect x="-6" y="-10.5" width="12" height="21"/><text x="19" y="3" transform="rotate(-90)">90</text></g>
<g id="n18b" class="B" transform="translate(741,198)"><rect x="-10.5" y="-10.5" width="21" height="21"/><text x="19" y="3" transform="rotate(-90)">18</text></g>
<g id="n21" class="B" transform="translate(793,185)"><rect x="-10.5" y="-5" width="23" height="9"/><text x="19" y="3" transform="rotate(-90)">21</text></g>
<g id="n25" class="G" transform="translate(704,225)"><rect x="-10.5" y="-10.5" width="21" height="21"/><text x="19" y="3" transform="rotate(-90)">25</text></g>
<g id="n12" class="G" transform="translate(703,260)"><rect x="-10.5" y="-10.5" width="21" height="21"/></g>
<g id="n93" class="B" transform="translate(800,227)"><rect x="-10.5" y="-10.5" width="21" height="21"/><text x="19" y="3" transform="rotate(-90)">93</text></g>
<g id="n36" class="G" transform="translate(773,290)"><rect x="-10.5" y="-10.5" width="21" height="21"/><text x="19" y="3" transform="rotate(-90)">36</text></g>
<g id="n92" class="G" transform="translate(819,277)"><rect x="-10.5" y="-10.5" width="21" height="21"/><text x="19" y="3" transform="rotate(-90)">92</text></g>
<g id="n35" class="B" transform="translate(744,307)"><rect x="-10.5" y="-10.5" width="21" height="21"/><text x="19" y="3" transform="rotate(-90)">35</text></g>
<g id="n10" class="G" transform="translate(731,352)"><rect x="-10.5" y="-10.5" width="21" height="21"/><text x="19" y="3" transform="rotate(-90)">10</text></g>
<g id="n16" class="G" transform="translate(711,332)"><rect x="-10.5" y="-10.5" width="21" height="21"/><text x="19" y="3" transform="rotate(-90)">16</text></g>
<g id="n62b" class="B" transform="translate(839,318)"><rect x="-10.5" y="-10.5" width="21" height="21"/><text x="19" y="3" transform="rotate(-90)">62</text></g>
<g id="n91" class="B" transform="translate(823,328)"><rect x="-10.5" y="-10.5" width="21" height="21"/><text x="19" y="3" transform="rotate(-90)">91</text></g>
<g id="n11" class="B" transform="translate(764,368)"><rect x="-10.5" y="-10.5" width="21" height="21"/><text x="19" y="3" transform="rotate(-90)">11</text></g>
<g id="n13" class="B" transform="translate(796,363)"><rect x="-10.5" y="-10.5" width="21" height="21"/><text x="19" y="3" transform="rotate(-90)">13</text></g>
<g id="n17" class="G" transform="translate(846,368)"><rect x="-10.5" y="-10.5" width="21" height="21"/><text x="19" y="3" transform="rotate(-90)">17</text></g>
<g id="n34" class="G" transform="translate(741,388)"><rect x="-10.5" y="-10.5" width="21" height="21"/><text x="19" y="3" transform="rotate(-90)">34</text></g>
<g id="n58" class="G" transform="translate(839,413)"><rect x="-10.5" y="-10.5" width="21" height="21"/><text x="19" y="3" transform="rotate(-90)">58</text></g>
<g id="n18" class="G" transform="translate(711,435)"><rect x="-10.5" y="-10.5" width="21" height="21"/><text x="19" y="3" transform="rotate(-90)">18</text></g>
<g id="n9" class="G" transform="translate(759,477)"><rect x="-10.5" y="-10.5" width="21" height="21"/><text x="19" y="3" transform="rotate(-90)">9</text></g>
<g id="n40" class="B" transform="translate(812,461)"><rect x="-10.5" y="-10.5" width="21" height="21"/><text x="19" y="3" transform="rotate(-90)">40</text></g>
<g id="n38" class="G" transform="translate(808,504)"><rect x="-10.5" y="-10.5" width="21" height="21"/><text x="19" y="3" transform="rotate(-90)">38</text></g>
<g id="n63" class="G" transform="translate(719,502)"><rect x="-10.5" y="-10.5" width="21" height="21"/><text x="19" y="3" transform="rotate(-90)">63</text></g>
<g id="n24" class="B" transform="translate(754,563)"><rect x="-10.5" y="-10.5" width="21" height="21"/><text x="19" y="3" transform="rotate(-90)">24</text></g>
<g id="n39" class="G" transform="translate(780,547)"><rect x="-10.5" y="-10.5" width="21" height="21"/><text x="19" y="3" transform="rotate(-90)">39</text></g>
<g id="n4" class="G" transform="translate(587,487)"><rect x="-10.5" y="-10.5" width="21" height="21"/><text x="19" y="3" transform="rotate(-90)">4</text></g>
<g id="n41" class="G" transform="translate(551,527)"><rect x="-10.5" y="-10.5" width="21" height="21"/><text x="19" y="3" transform="rotate(-90)">41</text></g>
<g id="n43" class="G" transform="translate(575,562)"><rect x="-10.5" y="-10.5" width="21" height="21"/><text x="19" y="3" transform="rotate(-90)">43</text></g>
<g id="n31" class="G" transform="translate(610,516)"><rect x="-10.5" y="-10.5" width="21" height="21"/><text x="19" y="3" transform="rotate(-90)">31</text></g>
<g id="n1" class="G" transform="translate(640,499)"><rect x="-10.5" y="-10.5" width="21" height="21"/><text x="19" y="3" transform="rotate(-90)">1</text></g>
<g id="n7" class="G" transform="translate(662,492)"><rect x="-10.5" y="-10.5" width="21" height="21"/><text x="19" y="3" transform="rotate(-90)">7</text></g>
<g id="n30" class="G" transform="translate(633,568)"><rect x="-10.5" y="-10.5" width="21" height="21"/><text x="19" y="3" transform="rotate(-90)">30</text></g>
<g id="n33" class="G" transform="translate(683,553)"><rect x="-10.5" y="-10.5" width="21" height="21"/><text x="19" y="3" transform="rotate(-90)">33</text></g>
<g id="n2" class="G" transform="translate(677,582)"><rect x="-10.5" y="-10.5" width="21" height="21"/></g>
<g id="n78" class="G" transform="translate(652,648)"><rect x="-10.5" y="-10.5" width="21" height="21"/><text x="19" y="3" transform="rotate(-90)">78</text></g>
<g id="n76b" class="G" transform="translate(682,660)"><rect x="-10.5" y="-10.5" width="21" height="21"/><text x="19" y="3" transform="rotate(-90)">76</text></g>
<g id="n77" class="G" transform="translate(733,628)"><rect x="-10.5" y="-10.5" width="21" height="21"/><text x="19" y="3" transform="rotate(-90)">77</text></g>
<g id="n102" class="G" transform="translate(790,647)"><rect x="-10.5" y="-10.5" width="21" height="21"/><text x="19" y="3" transform="rotate(-90)">102</text></g>
<g id="n123" class="G" transform="translate(844,653)"><rect x="-10.5" y="-10.5" width="21" height="21"/><text x="19" y="3" transform="rotate(-90)">123</text></g>
</g>
<g id="legend" class="leg">
<rect x="12" y="1597" width="33" height="49" fill="#58589a"/>
<rect x="76" y="1597" width="33" height="49" fill="#f08cc0"/>
<rect x="140" y="1597" width="33" height="49" fill="#f7f08c"/>
<rect x="204" y="1597" width="33" height="49" fill="#a4d48c"/>
<text transform="translate(38,1577) rotate(-90)" textLength="184" lengthAdjust="spacingAndGlyphs">Multiple venues</text>
<text transform="translate(100,1577) rotate(-90)" textLength="157" lengthAdjust="spacingAndGlyphs">Brothel based</text>
<text transform="translate(165,1577) rotate(-90)" textLength="244" lengthAdjust="spacingAndGlyphs">Entertainment-based</text>
<text transform="translate(230,1577) rotate(-90)" textLength="157" lengthAdjust="spacingAndGlyphs">Street-based</text>
</g>
</svg>
